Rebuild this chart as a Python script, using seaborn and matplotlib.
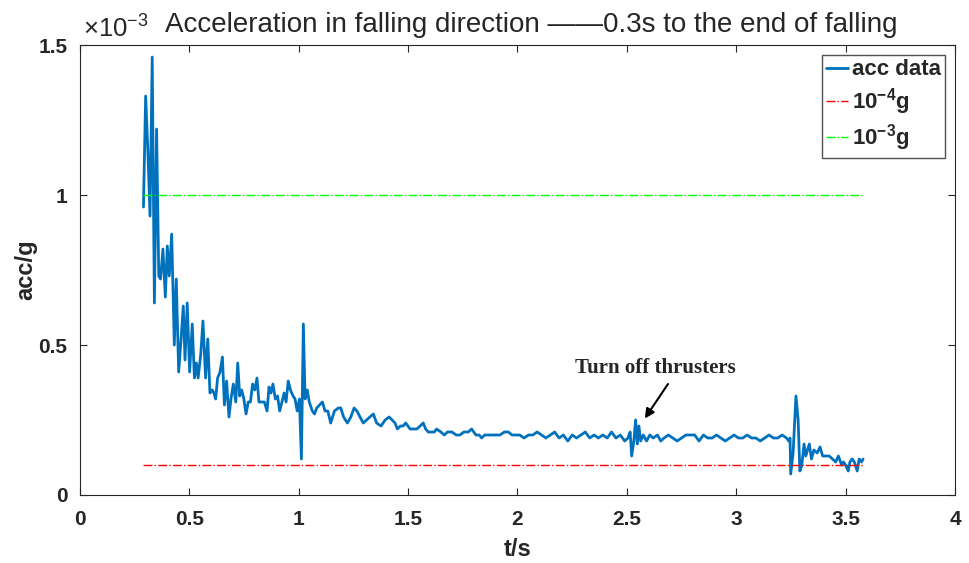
import matplotlib
matplotlib.use("Agg")
import matplotlib.pyplot as plt
import seaborn as sns
import pandas as pd

# time (s)
t = [0.29, 0.30, 0.31, 0.32, 0.33, 0.34, 0.35, 0.36, 0.368, 0.379, 0.39, 0.399, 0.408, 0.419,
     0.431, 0.44, 0.451, 0.462, 0.472, 0.48, 0.49, 0.501, 0.513, 0.523, 0.532, 0.54, 0.552,
     0.562, 0.574, 0.584, 0.594, 0.605, 0.612, 0.62, 0.629, 0.64, 0.651, 0.66, 0.67, 0.681,
     0.69, 0.701, 0.712, 0.721, 0.73, 0.739, 0.749, 0.759, 0.769, 0.779, 0.789, 0.799, 0.809,
     0.818, 0.83, 0.843, 0.855, 0.864, 0.873, 0.882, 0.893, 0.903, 0.913, 0.923, 0.933, 0.942,
     0.952, 0.962, 0.974, 0.983, 0.993, 1.003, 1.012, 1.021, 1.029, 1.039, 1.048, 1.062, 1.072,
     1.082, 1.095, 1.108, 1.12, 1.133, 1.146, 1.163, 1.181, 1.192, 1.205, 1.222, 1.238, 1.253,
     1.266, 1.28, 1.295, 1.31, 1.325, 1.341, 1.356, 1.376, 1.395, 1.413, 1.427, 1.44, 1.451,
     1.465, 1.477, 1.489, 1.509, 1.525, 1.54, 1.555, 1.569, 1.58, 1.592, 1.608, 1.62, 1.63,
     1.65, 1.665, 1.68, 1.70, 1.72, 1.737, 1.755, 1.775, 1.79, 1.81, 1.825, 1.836, 1.85, 1.865,
     1.88, 1.90, 1.92, 1.94, 1.958, 1.975, 1.99, 2.01, 2.03, 2.05, 2.07, 2.09, 2.11, 2.13,
     2.15, 2.17, 2.19, 2.21, 2.23, 2.25, 2.27, 2.29, 2.31, 2.33, 2.35, 2.37, 2.39, 2.41, 2.43,
     2.45, 2.47, 2.49, 2.505, 2.515, 2.522, 2.532, 2.54, 2.548, 2.555, 2.563, 2.575, 2.59,
     2.605, 2.62, 2.64, 2.655, 2.67, 2.69, 2.71, 2.73, 2.75, 2.77, 2.79, 2.81, 2.83, 2.85,
     2.87, 2.89, 2.91, 2.93, 2.95, 2.97, 2.99, 3.01, 3.03, 3.05, 3.07, 3.09, 3.11, 3.13, 3.15,
     3.17, 3.19, 3.21, 3.23, 3.24, 3.246, 3.249, 3.26, 3.273, 3.283, 3.291, 3.30, 3.31, 3.318,
     3.334, 3.344, 3.355, 3.37, 3.383, 3.395, 3.413, 3.425, 3.44, 3.455, 3.467, 3.482, 3.49,
     3.50, 3.512, 3.52, 3.53, 3.54, 3.553, 3.562, 3.573, 3.58]

# acceleration (x 1e-3 g)
acc = [0.96, 1.33, 1.15, 0.93, 1.46, 0.64, 1.22, 0.73, 0.72, 0.82, 0.66, 0.83, 0.73, 0.87,
       0.50, 0.72, 0.41, 0.52, 0.63, 0.45, 0.64, 0.41, 0.57, 0.39, 0.44, 0.39, 0.47,
       0.58, 0.39, 0.52, 0.34, 0.35, 0.34, 0.32, 0.39, 0.41, 0.46, 0.30, 0.38, 0.26,
       0.32, 0.37, 0.31, 0.44, 0.33, 0.35, 0.32, 0.27, 0.31, 0.31, 0.37, 0.35, 0.39,
       0.31, 0.31, 0.31, 0.28, 0.36, 0.34, 0.37, 0.32, 0.33, 0.28, 0.31, 0.34, 0.31,
       0.38, 0.35, 0.33, 0.32, 0.28, 0.32, 0.12, 0.57, 0.32, 0.35, 0.31, 0.28, 0.27,
       0.29, 0.30, 0.31, 0.28, 0.28, 0.24, 0.28, 0.29, 0.29, 0.26, 0.24, 0.26, 0.29,
       0.28, 0.26, 0.24, 0.25, 0.26, 0.27, 0.24, 0.23, 0.25, 0.26, 0.25, 0.24, 0.22,
       0.23, 0.23, 0.24, 0.22, 0.22, 0.22, 0.23, 0.24, 0.22, 0.21, 0.21, 0.21, 0.22,
       0.21, 0.20, 0.21, 0.21, 0.20, 0.20, 0.21, 0.21, 0.22, 0.20, 0.20, 0.19, 0.20, 0.20,
       0.20, 0.20, 0.20, 0.21, 0.21, 0.20, 0.20, 0.20, 0.19, 0.20, 0.20, 0.21, 0.20, 0.19,
       0.20, 0.21, 0.19, 0.20, 0.18, 0.20, 0.19, 0.20, 0.21, 0.19, 0.20, 0.19, 0.20, 0.19, 0.21,
       0.19, 0.20, 0.18, 0.19, 0.21, 0.13, 0.18, 0.25, 0.17, 0.23, 0.18, 0.20, 0.18,
       0.20, 0.19, 0.20, 0.18, 0.19, 0.20, 0.19, 0.18, 0.19, 0.20, 0.20, 0.20, 0.18, 0.20,
       0.19, 0.19, 0.20, 0.19, 0.18, 0.19, 0.20, 0.19, 0.19, 0.20, 0.19, 0.19, 0.18, 0.19, 0.20,
       0.19, 0.19, 0.20, 0.19, 0.18, 0.19, 0.07, 0.14, 0.33, 0.25, 0.08, 0.10, 0.17, 0.13,
       0.17, 0.12, 0.15, 0.14, 0.16, 0.13, 0.13, 0.13, 0.12, 0.11, 0.13, 0.10, 0.11,
       0.10, 0.08, 0.11, 0.12, 0.11, 0.08, 0.12, 0.11, 0.12]

ref_t = [0.29, 3.58]
ref_low = [0.1, 0.1]    # 1e-4 g in units of 1e-3 g
ref_high = [1.0, 1.0]   # 1e-3 g

xticks = [0, 0.5, 1, 1.5, 2, 2.5, 3, 3.5, 4]
yticks = [0, 0.5, 1, 1.5]
xtick_labels = ["0", "0.5", "1", "1.5", "2", "2.5", "3", "3.5", "4"]
ytick_labels = ["0", "0.5", "1", "1.5"]

sns.set_theme(style="white")
plt.rcParams["font.family"] = ["Liberation Sans", "DejaVu Sans"]
plt.rcParams["mathtext.fontset"] = "custom"
plt.rcParams["mathtext.rm"] = "Liberation Sans"
plt.rcParams["mathtext.bf"] = "Liberation Sans:bold"

fig = plt.figure(figsize=(9.7, 5.63), dpi=100)
ax = fig.add_axes([0.0825, 0.1208, 0.902, 0.7992])

df = pd.DataFrame({"t": t, "acc": acc})
sns.lineplot(data=df, x="t", y="acc", ax=ax, color="#0072BD", linewidth=2.0,
             sort=False, estimator=None, label="acc data")
sns.lineplot(x=ref_t, y=ref_low, ax=ax, color="#FF0000", linewidth=1.0,
             linestyle="-.", label=r"10$^{\mathbf{-4}}$g")
sns.lineplot(x=ref_t, y=ref_high, ax=ax, color="#00FF00", linewidth=1.0,
             linestyle="-.", label=r"10$^{\mathbf{-3}}$g")

ax.set_xlim(0, 4)
ax.set_ylim(0, 1.5)
ax.set_xticks(xticks)
ax.set_xticklabels(xtick_labels, fontsize=15, fontweight="bold")
ax.set_yticks(yticks)
ax.set_yticklabels(ytick_labels, fontsize=15, fontweight="bold")
ax.tick_params(direction="in", length=5, width=0.8, top=True, right=True,
               bottom=True, left=True, colors="#262626", labelcolor="#262626")
ax.tick_params(axis="x", pad=11)
ax.tick_params(axis="y", pad=9)
for s in ax.spines.values():
    s.set_color("#262626")
    s.set_linewidth(0.8)

ax.set_xlabel("t/s", fontsize=17, fontweight="bold", labelpad=6)
ax.set_ylabel("acc/g", fontsize=17, fontweight="bold", labelpad=1)

ax.text(0.003, 1.0178, r"$\times$10$^{-3}$", transform=ax.transAxes, fontsize=18.5,
        ha="left", va="baseline")
ax.text(0.5155, 1.029, "Acceleration in falling direction \u2014\u20140.3s to the end of falling",
        transform=ax.transAxes, fontsize=20, ha="center", va="baseline")

ax.text(2.63, 0.423, "Turn off thrusters", ha="center", va="center", fontsize=15,
        fontweight="bold", family=["Liberation Serif", "DejaVu Serif"])
ax.annotate("", xy=(2.582, 0.255), xytext=(2.688, 0.37),
            arrowprops=dict(arrowstyle="-|>", color="black", lw=1.5,
                            shrinkA=0, shrinkB=0, mutation_scale=14))

leg = ax.legend(loc="upper right", fontsize=16, frameon=True, fancybox=False,
                handlelength=1.0, handletextpad=0.15, borderpad=0.2,
                labelspacing=0.25, borderaxespad=0.45)
leg.get_frame().set_edgecolor("#262626")
leg.get_frame().set_linewidth(1.0)
for txt in leg.get_texts():
    txt.set_fontweight("bold")

fig.savefig("out.png", dpi=100)
